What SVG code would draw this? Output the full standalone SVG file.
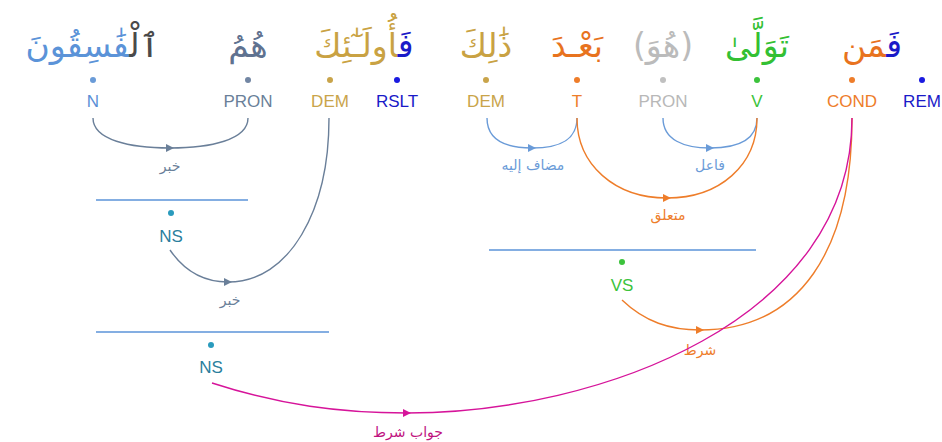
<svg xmlns="http://www.w3.org/2000/svg" width="942" height="442" viewBox="0 0 942 442">
<style>
.w{font-family:"DejaVu Sans",sans-serif;font-size:33px;text-anchor:middle;direction:rtl}
.t{font-family:"Liberation Sans",Arial,sans-serif;font-size:17px;text-anchor:middle}
.a{font-family:"DejaVu Sans",sans-serif;font-size:14px;text-anchor:middle;direction:rtl}
.e{fill:none;stroke-width:1.4}
.hl{stroke:#5b93d8;stroke-width:1.4}
</style>
<defs>
<marker id="mS" markerUnits="userSpaceOnUse" markerWidth="10" markerHeight="10" refX="5" refY="5" orient="auto"><path d="M1,1 L9,5 L1,9 Z" fill="#6a7f99"/></marker>
<marker id="mB" markerUnits="userSpaceOnUse" markerWidth="10" markerHeight="10" refX="5" refY="5" orient="auto"><path d="M1,1 L9,5 L1,9 Z" fill="#6a9bd8"/></marker>
<marker id="mO" markerUnits="userSpaceOnUse" markerWidth="10" markerHeight="10" refX="5" refY="5" orient="auto"><path d="M1,1 L9,5 L1,9 Z" fill="#ee7d2a"/></marker>
<marker id="mM" markerUnits="userSpaceOnUse" markerWidth="10" markerHeight="10" refX="5" refY="5" orient="auto"><path d="M1,1 L9,5 L1,9 Z" fill="#d6149a"/></marker>
</defs>

<g id="w-fasiqun">
<text class="w" x="92" y="57"><tspan fill="#4a4a4a">ٱلْ</tspan><tspan fill="#5b93d8">فَٰسِقُونَ</tspan></text>
<circle cx="93" cy="80" r="3" fill="#6a9bd8"/>
<text class="t" x="93" y="107" fill="#5b8fd6">N</text>
</g>
<g id="w-hum">
<text class="w" x="248" y="57" fill="#5f7290">هُمُ</text>
<circle cx="248" cy="80" r="3" fill="#7286a3"/>
<text class="t" x="248" y="107" fill="#6a7f99">PRON</text>
</g>
<g id="w-ulaika">
<text class="w" x="364" y="57"><tspan fill="#1a1ac8">فَ</tspan><tspan fill="#c9a243">أُولَـٰٓئِكَ</tspan></text>
<circle cx="330" cy="80" r="3" fill="#c9a44a"/>
<text class="t" x="330" y="107" fill="#c9a44a">DEM</text>
<circle cx="397" cy="80" r="3" fill="#1a1ae0"/>
<text class="t" x="397" y="107" fill="#1a1ac8">RSLT</text>
</g>
<g id="w-dhalika">
<text class="w" x="486" y="57" fill="#c9a243">ذَٰلِكَ</text>
<circle cx="486" cy="80" r="3" fill="#c9a44a"/>
<text class="t" x="486" y="107" fill="#c9a44a">DEM</text>
</g>
<g id="w-bada">
<text class="w" x="577" y="57" fill="#e8731e">بَعْـدَ</text>
<circle cx="577" cy="80" r="3" fill="#ee7d2a"/>
<text class="t" x="577" y="107" fill="#ee7d2a">T</text>
</g>
<g id="w-huwa">
<text class="w" x="663" y="57" fill="#bbbbbb">(هُوَ)</text>
<circle cx="663" cy="80" r="3" fill="#c0c0c0"/>
<text class="t" x="663" y="107" fill="#b8b8b8">PRON</text>
</g>
<g id="w-tawalla">
<text class="w" x="757" y="57" fill="#33c033">تَوَلَّىٰ</text>
<circle cx="757" cy="80" r="3" fill="#3cc33c"/>
<text class="t" x="757" y="107" fill="#3cc33c">V</text>
</g>
<g id="w-faman">
<text class="w" x="872" y="57"><tspan fill="#1a1ac8">فَ</tspan><tspan fill="#e8731e">مَن</tspan></text>
<circle cx="852" cy="80" r="3" fill="#ee7d2a"/>
<text class="t" x="852" y="107" fill="#ee7d2a">COND</text>
<circle cx="922" cy="80" r="3" fill="#1a1ae0"/>
<text class="t" x="922" y="107" fill="#1a1ac8">REM</text>
</g>

<g id="ns1">
<line class="hl" x1="96" y1="200" x2="248" y2="200"/>
<circle cx="171" cy="213" r="3" fill="#2a9bbd"/>
<text class="t" x="171" y="242" fill="#2a7f9e">NS</text>
</g>
<g id="ns2">
<line class="hl" x1="96" y1="332" x2="329" y2="332"/>
<circle cx="211" cy="345" r="3" fill="#2a9bbd"/>
<text class="t" x="211" y="373" fill="#2a7f9e">NS</text>
</g>
<g id="vs">
<line class="hl" x1="489" y1="250" x2="756" y2="250"/>
<circle cx="622" cy="262" r="3" fill="#3cc33c"/>
<text class="t" x="622" y="291" fill="#3cc33c">VS</text>
</g>

<g id="connectors">
<path class="e" stroke="#6a7f99" marker-mid="url(#mS)" d="M93 118 C93 140,130 148,170 148 C210 148,248 140,248 118"/>
<text class="a" x="170" y="171" fill="#6a7f99">خبر</text>
<path class="e" stroke="#6a7f99" marker-mid="url(#mS)" d="M170 250 C185 272,205 282,228 282 C290 282,329 210,329 118"/>
<text class="a" x="230" y="305" fill="#6a7f99">خبر</text>
<path class="e" stroke="#6a9bd8" marker-mid="url(#mB)" d="M487 118 C487 140,505 148,532 148 C560 148,577 140,577 118"/>
<text class="a" x="533" y="170" fill="#6a9bd8">مضاف إليه</text>
<path class="e" stroke="#6a9bd8" marker-mid="url(#mB)" d="M663 118 C663 140,684 148,710 148 C738 148,757 140,757 118"/>
<text class="a" x="710" y="170" fill="#6a9bd8">فاعل</text>
<path class="e" stroke="#ee7d2a" marker-mid="url(#mO)" d="M577 118 C577 165,615 198,667 198 C720 198,757 165,757 118"/>
<text class="a" x="668" y="220" fill="#ee7d2a">متعلق</text>
<path class="e" stroke="#ee7d2a" marker-mid="url(#mO)" d="M622 300 C645 322,670 330,700 330 C800 330,852 250,852 118"/>
<text class="a" x="700" y="355" fill="#ee7d2a">شرط</text>
<path class="e" stroke="#d6149a" marker-mid="url(#mM)" d="M212 383 C280 405,340 413,407 413 C600 413,852 320,852 118"/>
<text class="a" x="408" y="437" fill="#c0127f">جواب شرط</text>
</g>
</svg>
